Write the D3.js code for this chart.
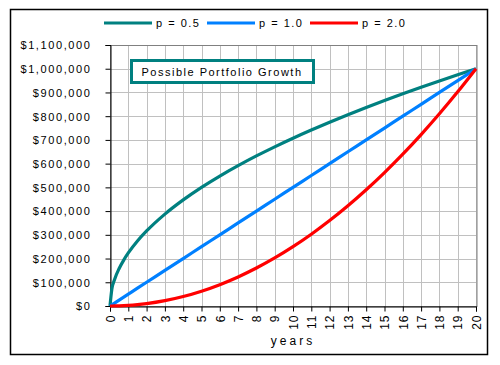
<!DOCTYPE html>
<html><head><meta charset="utf-8">
<script src="https://cdn.jsdelivr.net/npm/d3@7"></script>
<style>
html,body{margin:0;padding:0;background:#fff;}
svg text{font-family:"Liberation Sans",Arial,sans-serif;}
</style></head>
<body>
<svg id="chart" width="500" height="365"></svg>
<script>
// Data
const years = [0, 0.1, 0.25, 0.5, 0.75, 1, 1.5, 2, 3, 4, 5, 6, 7, 8, 9, 10, 11, 12, 13, 14, 15, 16, 17, 18, 19, 20];
const seriesNames = ["p = 0.5", "p = 1.0", "p = 2.0"];
const p05 = [0, 70700, 111800, 158100, 193600, 223600, 273900, 316200, 387300, 447200, 500000, 547700, 591600, 632500, 670800, 707100, 741600, 774600, 806200, 836700, 866000, 894400, 922000, 948700, 974700, 1000000];
const p10 = [0, 5000, 12500, 25000, 37500, 50000, 75000, 100000, 150000, 200000, 250000, 300000, 350000, 400000, 450000, 500000, 550000, 600000, 650000, 700000, 750000, 800000, 850000, 900000, 950000, 1000000];
const p20 = [0, 25, 156, 625, 1406, 2500, 5625, 10000, 22500, 40000, 62500, 90000, 122500, 160000, 202500, 250000, 302500, 360000, 422500, 490000, 562500, 640000, 722500, 810000, 902500, 1000000];
const xTicks = d3.range(0, 21);
const yTicks = d3.range(0, 1100001, 100000);
const titleText = "Possible Portfolio Growth";
const xLabel = "years";
const colors = ["#008080", "#0080ff", "#ff0000"];

const svg = d3.select("#chart");
const L = 110, R = 476, T = 45, B = 306;
const x = d3.scaleLinear().domain([0, 20]).range([L, R]);
const y = d3.scaleLinear().domain([0, 1100000]).range([B, T]);

// outer border
svg.append("rect").attr("x", 10.5).attr("y", 9.5).attr("width", 477).attr("height", 345)
  .attr("fill", "#fff").attr("stroke", "#000").attr("stroke-width", 1.5);

// grid
const g = svg.append("g");
g.selectAll(".vg").data(xTicks).join("line")
  .attr("x1", d => Math.round(x(d)) + 0.5).attr("x2", d => Math.round(x(d)) + 0.5)
  .attr("y1", T).attr("y2", B).attr("stroke", "#c0c0c0");
g.selectAll(".hg").data(yTicks).join("line")
  .attr("y1", d => Math.round(y(d)) + 0.5).attr("y2", d => Math.round(y(d)) + 0.5)
  .attr("x1", L).attr("x2", R + 1).attr("stroke", "#c0c0c0");
// plot frame gray top/right
svg.append("rect").attr("x", L + 0.5).attr("y", Math.round(T) + 0.5).attr("width", Math.round(R) - L + 0.5)
  .attr("height", B - T).attr("fill", "none").attr("stroke", "#808080");

// axes
const fmt = v => "$" + d3.format(",")(v);
const yAxis = svg.append("g").attr("transform", `translate(${L + 0.5},0)`)
  .call(d3.axisLeft(y).tickValues(yTicks).tickFormat(fmt).tickSize(5).tickPadding(14));
yAxis.select(".domain").attr("stroke", "#000");
yAxis.selectAll("text").attr("font-size", 11).attr("letter-spacing", "1.6px").attr("fill", "#000").attr("dy", "0.35em");

const xAxis = svg.append("g").attr("transform", `translate(0,${B + 0.5})`)
  .call(d3.axisBottom(x).tickValues(xTicks).tickFormat(d3.format("d")).tickSize(5));
xAxis.select(".domain").attr("stroke", "#000");
xAxis.selectAll("text")
  .attr("font-size", 12).attr("fill", "#000")
  .attr("text-anchor", "end").attr("transform", "rotate(-90)")
  .attr("x", -8).attr("y", 0).attr("dy", "0.35em").attr("letter-spacing", "1px");

// lines
const allSeries = [p05, p10, p20];
const line = d3.line().x((d, i) => x(years[i])).y(d => y(d)).curve(d3.curveMonotoneX);
allSeries.forEach((s, k) => {
  svg.append("path").datum(s).attr("d", line).attr("fill", "none")
    .attr("stroke", colors[k]).attr("stroke-width", 3.2).attr("stroke-linejoin", "round");
});

// title box
svg.append("rect").attr("x", 131.5).attr("y", 60.5).attr("width", 182).attr("height", 22)
  .attr("fill", "#fff").attr("stroke", "#008080").attr("stroke-width", 3);
svg.append("text").attr("x", 222).attr("y", 76).attr("text-anchor", "middle")
  .attr("font-size", 11).attr("letter-spacing", "1.5px").text(titleText);

// legend
const legX = [104, 207, 310];
seriesNames.forEach((n, k) => {
  svg.append("line").attr("x1", legX[k]).attr("x2", legX[k] + 48).attr("y1", 23).attr("y2", 23)
    .attr("stroke", colors[k]).attr("stroke-width", 3);
  svg.append("text").attr("x", legX[k] + 52).attr("y", 27).attr("font-size", 11)
    .attr("letter-spacing", "1.5px").text(n);
});

// x label
svg.append("text").attr("x", 293).attr("y", 345).attr("text-anchor", "middle")
  .attr("font-size", 12).attr("letter-spacing", "3px").text(xLabel);
</script>
</body></html>
